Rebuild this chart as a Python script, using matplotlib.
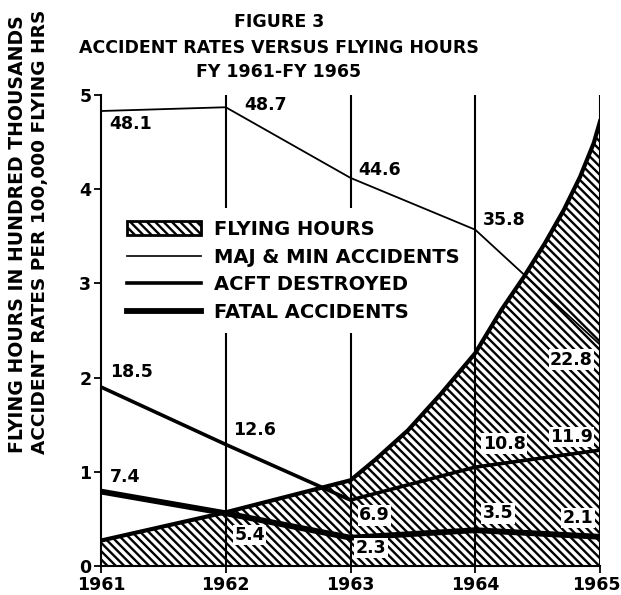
import matplotlib
matplotlib.use("Agg")
import matplotlib.pyplot as plt
import matplotlib.transforms as mtransforms
from matplotlib.patches import Patch
from matplotlib.lines import Line2D

# ---------------- data ----------------
years = [1961, 1962, 1963, 1964, 1965]
# accident rates per 100,000 flying hours (as plotted)
maj_min_rate = [48.3, 48.7, 41.2, 35.7, 23.5]
acft_destroyed_rate = [19.0, 12.9, 7.0, 10.5, 12.3]
fatal_rate = [7.9, 5.6, 3.0, 3.8, 3.1]
# printed value labels
maj_min_labels = ["48.1", "48.7", "44.6", "35.8", "22.8"]
acft_labels = ["18.5", "12.6", "6.9", "10.8", "11.9"]
fatal_labels = ["7.4", "5.4", "2.3", "3.5", "2.1"]
# flying hours (hundred thousands)
fh_years = [1961, 1962, 1963, 1963.20, 1963.46, 1963.72, 1964,
            1964.21, 1964.39, 1964.56, 1964.71, 1964.84, 1964.95, 1965]
fh_hours = [0.27, 0.57, 0.91, 1.13, 1.44, 1.82, 2.26,
            2.72, 3.07, 3.43, 3.78, 4.13, 4.49, 4.72]

title_lines = ["FIGURE 3", "ACCIDENT RATES VERSUS FLYING HOURS", "FY 1961-FY 1965"]
ylabel_1 = "FLYING HOURS IN HUNDRED THOUSANDS"
ylabel_2 = "ACCIDENT RATES PER 100,000 FLYING HRS"
legend_labels = ["FLYING HOURS", "MAJ & MIN ACCIDENTS", "ACFT DESTROYED", "FATAL ACCIDENTS"]
yticks = [0, 1, 2, 3, 4, 5]

# ---------------- styling ----------------
plt.rcParams['font.family'] = ['DejaVu Sans']
plt.rcParams['hatch.linewidth'] = 1.7
FW = 'bold'
HATCH = '\\\\\\\\'

W, H = 621, 595
fig = plt.figure(figsize=(W / 100, H / 100), dpi=100)
ax = fig.add_axes([101 / W, 1 - 566 / H, (600 - 101) / W, (566 - 95) / H])
ax.set_xlim(1961, 1965)
ax.set_ylim(0, 5)

# flying hours area
ax.fill_between(fh_years, 0, fh_hours, facecolor='white', edgecolor='black',
                hatch=HATCH, linewidth=0, zorder=1)
ax.plot(fh_years, fh_hours, color='black', lw=3, zorder=3, solid_joinstyle='round')

# vertical grid lines
for yr in years[1:]:
    ax.axvline(yr, color='black', lw=1.5, zorder=2)

scale = 10.0
ax.plot(years, [v / scale for v in maj_min_rate], color='black', lw=1.3, zorder=6)
ax.plot(years, [v / scale for v in acft_destroyed_rate], color='black', lw=2.6, zorder=6)
ax.plot(years, [v / scale for v in fatal_rate], color='black', lw=4.2, zorder=6)

# label positions (year, y) - layout only
maj_pos = [(1961.07, 4.69), (1962.15, 4.89), (1963.06, 4.20), (1964.06, 3.67), (1964.60, 2.19)]
acft_pos = [(1961.07, 2.06), (1962.06, 1.44), (1963.07, 0.54), (1964.06, 1.30), (1964.60, 1.37)]
fatal_pos = [(1961.07, 0.94), (1962.07, 0.33), (1963.04, 0.19), (1964.06, 0.56), (1964.70, 0.51)]
boxed = {("maj", 4), ("acft", 2), ("acft", 3), ("acft", 4),
         ("fatal", 1), ("fatal", 2), ("fatal", 3), ("fatal", 4)}

for name, labs, poss in [("maj", maj_min_labels, maj_pos),
                         ("acft", acft_labels, acft_pos),
                         ("fatal", fatal_labels, fatal_pos)]:
    for i, (lab, (x, y)) in enumerate(zip(labs, poss)):
        kw = {}
        if (name, i) in boxed:
            kw['bbox'] = dict(facecolor='white', edgecolor='none', pad=1.0)
        ax.text(x, y, lab, ha='left', va='center', fontsize=12.5,
                fontweight=FW, zorder=7, **kw)

# axes / ticks
for s in ['top', 'right']:
    ax.spines[s].set_visible(False)
ax.spines['left'].set_linewidth(1.5)
ax.spines['bottom'].set_linewidth(1.5)
ax.set_xticks(years)
ax.set_xticklabels([str(y) for y in years])
ax.set_yticks(yticks)
ax.set_yticklabels([str(t) for t in yticks])
ax.tick_params(axis='both', direction='out', length=5, width=1.3,
               labelsize=12.5, pad=2)
for lbl in ax.get_xticklabels() + ax.get_yticklabels():
    lbl.set_fontweight(FW)
# nudge last year label so it stays inside the canvas
last = ax.get_xticklabels()[-1]
last.set_transform(last.get_transform() +
                   mtransforms.ScaledTranslation(-4 / 100, 0, fig.dpi_scale_trans))

# legend
handles = [Patch(facecolor='white', edgecolor='black', hatch=HATCH, lw=2),
           Line2D([], [], color='black', lw=1.2),
           Line2D([], [], color='black', lw=2.6),
           Line2D([], [], color='black', lw=4.2)]
leg = ax.legend(handles, legend_labels, loc='upper left', bbox_to_anchor=(0.01, 0.78),
                frameon=True, facecolor='white', edgecolor='none', framealpha=1,
                handlelength=3.8, handleheight=0.75, handletextpad=0.65,
                labelspacing=0.44, borderpad=0.6,
                prop={'size': 14, 'weight': FW})
leg.set_zorder(5)

# title
title_y = [22, 48, 72]
for t, yp in zip(title_lines, title_y):
    fig.text(279 / W, 1 - yp / H, t, ha='center', va='center',
             fontsize=12.5, fontweight=FW)

# y labels
fig.text(18 / W, 1 - 234 / H, ylabel_1, rotation=90, ha='center', va='center',
         fontsize=13.6, fontweight=FW)
fig.text(40 / W, 1 - 232 / H, ylabel_2, rotation=90, ha='center', va='center',
         fontsize=13.3, fontweight=FW)

fig.savefig('out.png', dpi=100, facecolor='white')
